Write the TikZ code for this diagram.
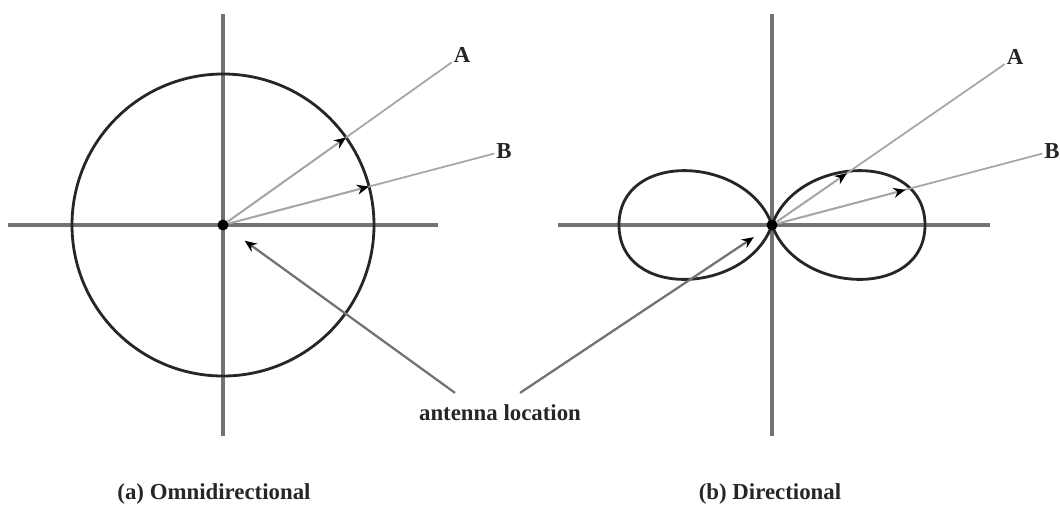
\documentclass[tikz,border=0pt]{standalone}
\usepackage{fontspec}
\setmainfont{Liberation Serif}
\usetikzlibrary{arrows.meta, calc}

\begin{document}
\begin{tikzpicture}[
        x=0.02cm, y=0.02cm,
        axis/.style={draw=black!55, line width=2pt},
        pattern/.style={draw=black!85, line width=1.6pt},
        ray/.style={draw=black!35, line width=1pt},
        raytip/.style={-{Stealth[black, length=0.24cm, width=0.2cm]}, draw=black!35, line width=1pt},
        pointer/.style={-{Stealth[black, length=0.24cm, width=0.2cm]}, draw=black!55, line width=1.3pt},
        feed/.style={circle, fill=black, inner sep=0pt, minimum size=0.22cm},
        lbl/.style={font=\bfseries\fontsize{13}{15}\selectfont, text=black!85, inner sep=1pt}
    ]
    \useasboundingbox (0,0) rectangle (1060,-515);

    % Antenna positions
    \coordinate (o1) at (223,-225);
    \coordinate (o2) at (772,-225);

    % Axes
    \draw[axis] ($(o1)+(-215,0)$) -- ($(o1)+(215,0)$);
    \draw[axis] ($(o1)+(0,211)$) -- ($(o1)+(0,-211)$);
    \draw[axis] ($(o2)+(-214,0)$) -- ($(o2)+(218,0)$);
    \draw[axis] ($(o2)+(0,211)$) -- ($(o2)+(0,-211)$);

    % Radiation patterns
    \draw[pattern] (o1) circle (151);
    \begin{scope}[shift={(o2)}]
        \draw[pattern] (0,0) .. controls (25,70) and (153,75) .. (153,0)
            .. controls (153,-75) and (25,-70) .. (0,0)
            .. controls (-25,70) and (-153,75) .. (-153,0)
            .. controls (-153,-75) and (-25,-70) .. cycle;
    \end{scope}

    % Nodes
    \node[feed] (oc) at (o1) {};
    \node[feed] (dc) at (o2) {};
    \node[lbl] (la1) at (462,-55) {A};
    \node[lbl] (lb1) at (504,-151) {B};
    \node[lbl] (la2) at (1015,-57) {A};
    \node[lbl] (lb2) at (1052,-151) {B};
    \node[lbl] (loc) at (500,-413) {antenna location};
    \node[lbl] (capa) at (214,-494) {(a) Omnidirectional};
    \node[lbl] (capb) at (770,-494) {(b) Directional};

    % Rays to A and B
    \draw[ray] (oc) -- (la1);
    \draw[ray] (oc) -- (lb1);
    \draw[ray] (dc) -- (la2);
    \draw[ray] (dc) -- (lb2);
    \coordinate (ta1) at ($(o1)!3.02cm!(la1)$);
    \coordinate (tb1) at ($(o1)!3.02cm!(lb1)$);
    \coordinate (ta2) at ($(o2)!1.82cm!(la2)$);
    \coordinate (tb2) at ($(o2)!2.76cm!(lb2)$);
    \draw[raytip] (oc) -- (ta1);
    \draw[raytip] (oc) -- (tb1);
    \draw[raytip] (dc) -- (ta2);
    \draw[raytip] (dc) -- (tb2);

    % Antenna location pointers
    \draw[pointer, shorten >=0.42cm] ($(loc.north)+(-45,10)$) -- (oc);
    \draw[pointer, shorten >=0.32cm] ($(loc.north)+(20,10)$) -- (dc);
\end{tikzpicture}
\end{document}
